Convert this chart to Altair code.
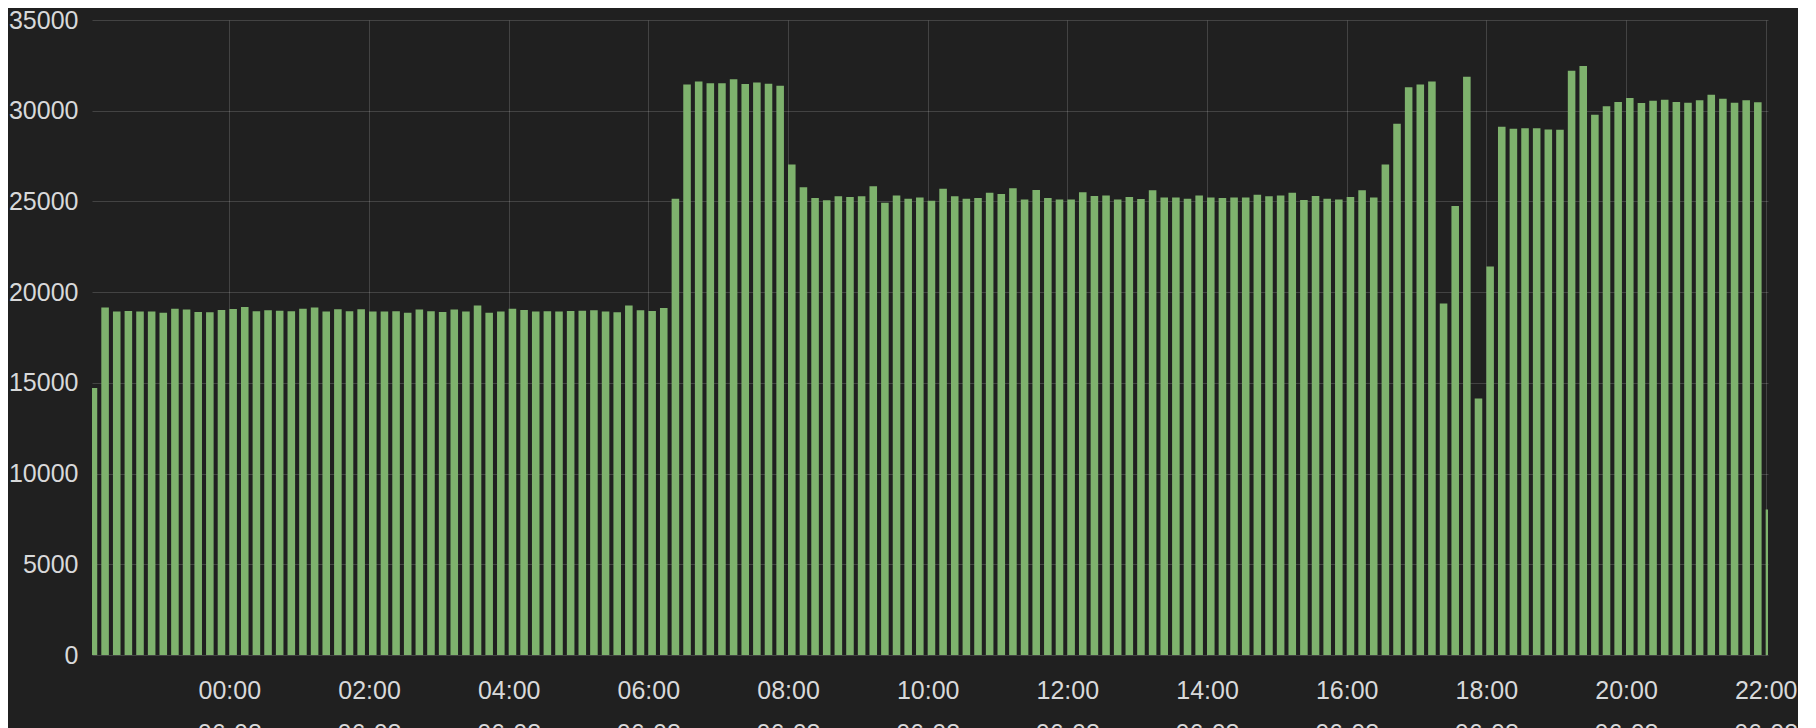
import altair as alt
import pandas as pd
from datetime import datetime, timedelta, timezone

# 10-minute buckets from 06-07 22:00 to 06-08 22:00
start = datetime(2020, 6, 7, 22, 0, tzinfo=timezone.utc)
step_minutes = 10
bar_minutes = 6.5

values = [
    14720, 19150, 18930, 18960, 18930, 18930, 18870, 19090, 19040, 18910,
    18890, 19020, 19070, 19180, 18950, 19000, 18980, 18950, 19090, 19150,
    18930, 19060, 18950, 19060, 18930, 18930, 18950, 18870, 19040, 18950,
    18910, 19040, 18930, 19260, 18870, 18930, 19090, 19020, 18930, 18950,
    18930, 18960, 18980, 19000, 18930, 18890, 19260, 19000, 18960, 19130,
    25150, 31450, 31610, 31520, 31520, 31740, 31470, 31560, 31490, 31380,
    27030, 25780, 25190, 25060, 25280, 25240, 25280, 25830, 24930, 25320,
    25150, 25220, 25040, 25700, 25280, 25150, 25190, 25480, 25410, 25720,
    25110, 25630, 25190, 25110, 25110, 25500, 25300, 25330, 25100, 25240,
    25130, 25610, 25210, 25220, 25150, 25320, 25210, 25190, 25210, 25210,
    25370, 25280, 25330, 25480, 25080, 25300, 25150, 25110, 25240, 25610,
    25220, 27040, 29280, 31300, 31450, 31610, 19370, 24750, 31870, 14140,
    21420, 29120, 29010, 29030, 29030, 28970, 28950, 32200, 32460, 29780,
    30240, 30480, 30700, 30420, 30550, 30600, 30480, 30440, 30570, 30880,
    30660, 30440, 30570, 30460, 8020,
]

y_ticks = [0, 5000, 10000, 15000, 20000, 25000, 30000, 35000]
x_tick_hours = [0, 2, 4, 6, 8, 10, 12, 14, 16, 18, 20, 22]


def ms(d):
    return int(d.timestamp() * 1000)


times = [start + timedelta(minutes=step_minutes * i) for i in range(len(values))]
df = pd.DataFrame({
    "t": [ms(t) for t in times],
    "t2": [ms(t + timedelta(minutes=bar_minutes)) for t in times],
    "v": values,
})

domain = [ms(start + timedelta(minutes=2)), ms(start + timedelta(hours=24, minutes=2))]
day = datetime(2020, 6, 8, 0, 0, tzinfo=timezone.utc)
x_ticks = [ms(day + timedelta(hours=h)) for h in x_tick_hours]

label_color = "#d8d9da"
font = "Liberation Sans"

chart = alt.Chart(df).mark_bar(color="#7eb26d", clip=True).encode(
    x=alt.X(
        "t:T",
        scale=alt.Scale(type="utc", domain=domain),
        axis=alt.Axis(
            title=None,
            values=x_ticks,
            labelExpr="[utcFormat(datum.value, '%H:%M'), utcFormat(datum.value, '%m-%d')]",
            labelAlign="center",
            labelBaseline="top",
            labelPadding=23,
            labelLineHeight=43,
            labelFlush=False,
            labelOverlap=False,
        ),
    ),
    x2="t2:T",
    y=alt.Y(
        "v:Q",
        scale=alt.Scale(domain=[0, 35000], nice=False),
        axis=alt.Axis(
            title=None,
            values=y_ticks,
            format="d",
            labelPadding=14,
        ),
    ),
    y2=alt.datum(0),
).properties(
    width=1676,
    height=635,
    padding=0,
    background="#202020",
).configure_view(
    strokeWidth=0,
).configure_axis(
    domain=False,
    ticks=False,
    tickSize=0,
    grid=True,
    gridColor="#ffffff",
    gridOpacity=0.16,
    gridWidth=1,
    labelColor=label_color,
    labelFont=font,
    labelFontSize=25,
    zindex=1,
)

chart.save("out.html", embed_options={"renderer": "svg", "actions": False})
